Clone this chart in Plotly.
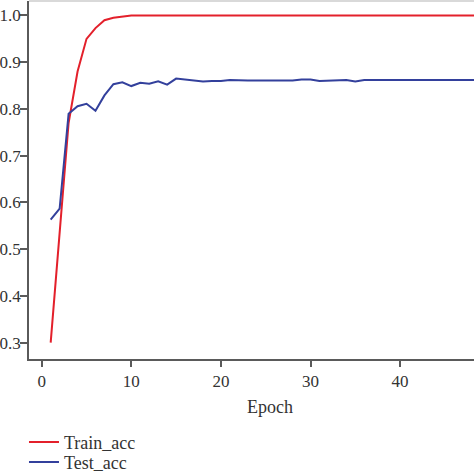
import plotly.graph_objects as go

epochs = list(range(1, 51))
train_acc = [0.30, 0.53, 0.77, 0.88, 0.95, 0.973, 0.99, 0.995, 0.998, 1.0] + [1.0] * 40
test_acc = [0.563, 0.587, 0.790, 0.806, 0.811, 0.796, 0.829, 0.853, 0.857, 0.849,
            0.856, 0.854, 0.859, 0.852, 0.865, 0.863, 0.861, 0.859, 0.860, 0.860,
            0.862, 0.861, 0.861, 0.861, 0.861, 0.861, 0.861, 0.861, 0.863, 0.863,
            0.860, 0.861, 0.862, 0.862, 0.859, 0.862, 0.862, 0.862, 0.862, 0.862,
            0.862, 0.862, 0.862, 0.862, 0.862, 0.862, 0.862, 0.862, 0.862, 0.862]
x_ticks = [0, 10, 20, 30, 40]
y_ticks = [0.3, 0.4, 0.5, 0.6, 0.7, 0.8, 0.9, 1.0]

FONT = "Liberation Serif"
AX = "#5a5a5a"
TXT = "#333"

fig = go.Figure()
fig.add_trace(go.Scatter(x=epochs, y=train_acc, mode="lines", name="Train_acc",
                         legend="legend",
                         line=dict(color="#e3202b", width=2)))
fig.add_trace(go.Scatter(x=epochs, y=test_acc, mode="lines", name="Test_acc",
                         legend="legend2",
                         line=dict(color="#33409c", width=2)))

leg_common = dict(xref="container", yref="container", x=0.0506, xanchor="left",
                  yanchor="top", font=dict(family=FONT, size=18, color=TXT),
                  bgcolor="rgba(0,0,0,0)")

fig.update_layout(
    width=474, height=474,
    margin=dict(l=29, r=0, t=1, b=115, autoexpand=False),
    paper_bgcolor="white", plot_bgcolor="white",
    font=dict(family=FONT, size=17, color=TXT),
    showlegend=True,
    legend=dict(y=0.1061, **leg_common),
    legend2=dict(y=0.0639, **leg_common),
    xaxis=dict(range=[-1.42, 48.25], tickvals=x_ticks, showgrid=False, zeroline=False,
               automargin=False,
               showline=True, linecolor=AX, linewidth=1.5, ticks="outside",
               ticklen=6, tickcolor=AX, tickwidth=1.5,
               tickfont=dict(family=FONT, size=17, color=TXT)),
    yaxis=dict(range=[0.265, 1.031], tickvals=y_ticks, tickformat=".1f",
               showgrid=False, zeroline=False, automargin=False,
               showline=True, linecolor=AX, linewidth=1.5, ticks="outside",
               ticklen=7, tickcolor=AX, tickwidth=1.5, ticklabelstandoff=-4,
               tickfont=dict(family=FONT, size=17, color=TXT)),
    annotations=[dict(text="Epoch", xref="paper", yref="paper", x=0.5416, y=-0.133,
                      xanchor="center", yanchor="middle", showarrow=False,
                      font=dict(family=FONT, size=18, color=TXT))],
    shapes=[dict(type="line", xref="paper", yref="paper", x0=0, x1=1, y0=1, y1=1,
                 line=dict(color="#d9d9d9", width=2))],
)

fig.write_html("out.html", config={"displayModeBar": False},
               post_script="document.body.style.margin='0';")
